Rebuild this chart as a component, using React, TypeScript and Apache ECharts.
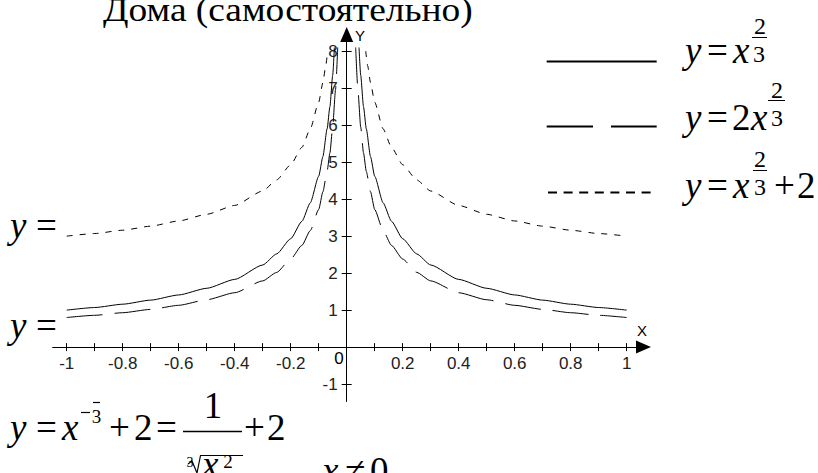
import React, { useEffect, useRef } from "react";
import * as echarts from "echarts";

// ---- axis ticks / labels ----
const xTickValues = [-1, -0.9, -0.8, -0.7, -0.6, -0.5, -0.4, -0.3, -0.2, -0.1, 0.1, 0.2, 0.3, 0.4, 0.5, 0.6, 0.7, 0.8, 0.9, 1];
const xLabelValues = [-1, -0.8, -0.6, -0.4, -0.2, 0.2, 0.4, 0.6, 0.8, 1];
const yTickValues = [-1, 1, 2, 3, 4, 5, 6, 7, 8];
const yLabelValues = [-1, 1, 2, 3, 4, 5, 6, 7, 8];

// ---- solid curve ----
const solidLeftX = [-1, -0.9, -0.8, -0.7, -0.6, -0.5, -0.4, -0.3, -0.25, -0.2, -0.16, -0.13, -0.1, -0.085, -0.07, -0.06, -0.05, -0.044];
const solidLeftY = [1.0, 1.07, 1.16, 1.27, 1.41, 1.59, 1.83, 2.22, 2.52, 2.93, 3.4, 3.9, 4.62, 5.15, 5.9, 6.5, 7.35, 8.1];
const solidRightX = [0.044, 0.05, 0.06, 0.07, 0.085, 0.1, 0.13, 0.16, 0.2, 0.25, 0.3, 0.4, 0.5, 0.6, 0.7, 0.8, 0.9, 1];
const solidRightY = [8.1, 7.35, 6.5, 5.9, 5.15, 4.62, 3.9, 3.4, 2.93, 2.52, 2.22, 1.83, 1.59, 1.41, 1.27, 1.16, 1.07, 1.0];

// ---- long-dashed curve ----
const dashLeftX = [-1, -0.9, -0.8, -0.7, -0.6, -0.5, -0.4, -0.3, -0.25, -0.2, -0.16, -0.13, -0.1, -0.085, -0.07, -0.06, -0.05, -0.04, -0.032];
const dashLeftY = [0.8, 0.86, 0.93, 1.02, 1.13, 1.28, 1.47, 1.79, 2.02, 2.38, 2.75, 3.15, 3.72, 4.2, 4.75, 5.25, 5.95, 6.95, 8.1];
const dashRightX = [0.032, 0.04, 0.05, 0.06, 0.07, 0.085, 0.1, 0.13, 0.16, 0.2, 0.25, 0.3, 0.4, 0.5, 0.6, 0.7, 0.8, 0.9, 1];
const dashRightY = [8.1, 6.95, 5.95, 5.25, 4.75, 4.2, 3.72, 3.15, 2.75, 2.38, 2.02, 1.79, 1.47, 1.28, 1.13, 1.02, 0.93, 0.86, 0.8];

// ---- short-dashed curve ----
const dotLeftX = [-1, -0.9, -0.8, -0.7, -0.6, -0.5, -0.4, -0.3, -0.25, -0.2, -0.16, -0.13, -0.1, -0.085, -0.075, -0.068];
const dotLeftY = [3.0, 3.07, 3.16, 3.27, 3.41, 3.59, 3.83, 4.22, 4.52, 4.93, 5.4, 5.9, 6.62, 7.15, 7.6, 8.0];
const dotRightX = [0.068, 0.075, 0.085, 0.1, 0.13, 0.16, 0.2, 0.25, 0.3, 0.4, 0.5, 0.6, 0.7, 0.8, 0.9, 1];
const dotRightY = [8.0, 7.6, 7.15, 6.62, 5.9, 5.4, 4.93, 4.52, 4.22, 3.83, 3.59, 3.41, 3.27, 3.16, 3.07, 3.0];

const SERIF = '"Liberation Serif", "Times New Roman", serif';
const SANS = '"Liberation Sans", Arial, sans-serif';
const M = 37; // main formula font size
const S = 24; // exponent fraction font size

// layout of the plotting frame
const X_MIN = -1.05;
const X_MAX = 1.06;
const Y_MIN = -1.47;
const Y_MAX = 8.45;
const G_LEFT = 52.7;
const G_TOP = 34.5;
const G_W = 590.8;
const G_H = 367;
// shift axes from the grid edges onto the zero lines
const X_AXIS_OFFSET = -(G_H * (0 - Y_MIN)) / (Y_MAX - Y_MIN);
const Y_AXIS_OFFSET = -(G_W * (0 - X_MIN)) / (X_MAX - X_MIN);

function pairs(xs: number[], ys: number[]) {
  return xs.map((x, i) => [x, ys[i]]);
}
function branches(lx: number[], ly: number[], rx: number[], ry: number[]) {
  return [...pairs(lx, ly), [0, "-"], ...pairs(rx, ry)];
}

function txt(text: string, x: number, baseline: number, size: number, opt: any = {}) {
  return {
    type: "text",
    x,
    y: baseline - 0.3375 * size,
    scaleX: opt.scaleX || 1,
    silent: true,
    style: {
      text,
      fontFamily: opt.family || SERIF,
      fontSize: size,
      fontStyle: opt.italic ? "italic" : "normal",
      fill: "#000",
      align: opt.align || "left",
      verticalAlign: "middle",
    },
  };
}
function hline(x1: number, x2: number, y: number, w = 1, dash?: number[]) {
  return {
    type: "line",
    silent: true,
    shape: { x1, y1: y, x2, y2: y },
    style: { stroke: "#000", lineWidth: w, lineDash: dash || null },
  };
}

export default function App() {
  const ref = useRef<HTMLDivElement>(null);
  useEffect(() => {
    if (!ref.current) return;
    const chart = echarts.init(ref.current, null, { renderer: "svg" });
    const axisLineStyle = { color: "#000", width: 1 };
    const tickLabel = { color: "#222", fontFamily: SANS, fontSize: 17 };
    const xBase = { type: "value", min: X_MIN, max: X_MAX, position: "bottom", offset: X_AXIS_OFFSET, splitLine: { show: false } };
    const yBase = { type: "value", min: Y_MIN, max: Y_MAX, position: "left", offset: Y_AXIS_OFFSET, splitLine: { show: false } };
    const option: any = {
      animation: false,
      backgroundColor: "#fff",
      grid: { left: G_LEFT, top: G_TOP, width: G_W, height: G_H, containLabel: false },
      xAxis: [
        {
          ...xBase,
          axisLine: { show: true, onZero: false, lineStyle: axisLineStyle, symbol: ["none", "triangle"], symbolSize: [13, 15] },
          axisTick: { show: true, inside: false, length: 4, customValues: xTickValues, lineStyle: axisLineStyle },
          axisLabel: { show: true, customValues: xLabelValues, margin: 8, ...tickLabel },
        },
        {
          ...xBase,
          axisLine: { show: false, onZero: false },
          axisTick: { show: true, inside: true, length: 4, customValues: xTickValues, lineStyle: axisLineStyle },
          axisLabel: { show: false },
        },
      ],
      yAxis: [
        {
          ...yBase,
          axisLine: { show: true, onZero: false, lineStyle: axisLineStyle, symbol: ["none", "triangle"], symbolSize: [13, 15] },
          axisTick: { show: true, inside: false, length: 5, customValues: yTickValues, lineStyle: axisLineStyle },
          axisLabel: { show: true, customValues: yLabelValues, margin: 9, ...tickLabel },
        },
        {
          ...yBase,
          axisLine: { show: false, onZero: false },
          axisTick: { show: true, inside: true, length: 5, customValues: yTickValues, lineStyle: axisLineStyle },
          axisLabel: { show: false },
        },
      ],
      series: [
        {
          type: "line",
          xAxisIndex: 0,
          yAxisIndex: 0,
          data: branches(solidLeftX, solidLeftY, solidRightX, solidRightY),
          showSymbol: false,
          smooth: 0.2,
          smoothMonotone: "x",
          lineStyle: { color: "#000", width: 1, type: "solid" },
          connectNulls: false,
          clip: false,
        },
        {
          type: "line",
          xAxisIndex: 0,
          yAxisIndex: 0,
          data: branches(dashLeftX, dashLeftY, dashRightX, dashRightY),
          showSymbol: false,
          smooth: 0.2,
          smoothMonotone: "x",
          lineStyle: { color: "#000", width: 1, type: [36, 12] },
          connectNulls: false,
          clip: false,
        },
        {
          type: "line",
          xAxisIndex: 0,
          yAxisIndex: 0,
          data: branches(dotLeftX, dotLeftY, dotRightX, dotRightY),
          showSymbol: false,
          smooth: 0.2,
          smoothMonotone: "x",
          lineStyle: { color: "#000", width: 1, type: [6, 7] },
          connectNulls: false,
          clip: false,
        },
      ],
      graphic: [
        // title
        txt("Дома (самостоятельно)", 103, 20.7, 34, { scaleX: 1.1 }),
        // axis letters and origin
        txt("Y", 355, 41, 15, { family: SANS }),
        txt("X", 637, 336, 15, { family: SANS }),
        txt("0", 339, 364, 17, { family: SANS, align: "center" }),
        // legend lines
        hline(546.7, 656.7, 61.5, 2),
        hline(546.7, 656.7, 126.5, 2, [46.3, 18]),
        hline(548, 657, 192.5, 2, [9, 6.6]),
        // legend formula 1: y = x^(2/3)
        txt("y", 685, 63, M, { italic: true }),
        txt("=", 707, 63, M),
        txt("x", 733, 63, M, { italic: true }),
        txt("2", 760, 34, S, { align: "center" }),
        hline(752, 767, 37.5, 1),
        txt("3", 759, 62, S, { align: "center" }),
        // legend formula 2: y = 2x^(2/3)
        txt("y", 685, 130, M, { italic: true }),
        txt("=", 707, 130, M),
        txt("2", 732, 130, M),
        txt("x", 751, 130, M, { italic: true }),
        txt("2", 777, 98, S, { align: "center" }),
        hline(768, 785, 100.5, 1),
        txt("3", 777, 126, S, { align: "center" }),
        // legend formula 3: y = x^(2/3) + 2
        txt("y", 685, 198, M, { italic: true }),
        txt("=", 707, 198, M),
        txt("x", 733, 198, M, { italic: true }),
        txt("2", 760, 167, S, { align: "center" }),
        hline(753, 767, 170.5, 1),
        txt("3", 760, 195, S, { align: "center" }),
        txt("+", 774, 198, M),
        txt("2", 797, 198, M),
        // left labels
        txt("y", 10, 238, M, { italic: true }),
        txt("=", 36, 238, M),
        txt("y", 10, 338, M, { italic: true }),
        txt("=", 36, 338, M),
        // bottom formula
        txt("y", 10, 440, M, { italic: true }),
        txt("=", 36, 440, M),
        txt("x", 62, 440, M, { italic: true }),
        hline(81, 90, 412.5, 1.2),
        hline(93, 100, 402.5, 1.2),
        txt("3", 96.5, 423, 19, { align: "center" }),
        txt("+", 109, 440, M),
        txt("2", 134, 440, M),
        txt("=", 156, 440, M),
        txt("1", 213, 418, M, { align: "center" }),
        hline(183, 242, 431.5, 1.3),
        txt("3", 190, 467, 14, { align: "center" }),
        {
          type: "polyline",
          silent: true,
          shape: { points: [[188, 464], [192, 461], [197, 473], [200.5, 455.5], [243, 455.5]] },
          style: { stroke: "#000", lineWidth: 1.2, fill: null },
        },
        txt("x", 202, 477, M, { italic: true }),
        txt("2", 228, 468, 19, { align: "center" }),
        txt("+", 244, 440, M),
        txt("2", 267, 440, M),
        txt("x", 322, 483, M, { italic: true }),
        txt("≠", 345, 483, M),
        txt("0", 370, 483, M),
      ],
    };
    chart.setOption(option);
    return () => chart.dispose();
  }, []);
  return (
    <div
      ref={ref}
      style={{ position: "absolute", left: 0, top: 0, width: 818, height: 473, background: "#fff" }}
    />
  );
}
